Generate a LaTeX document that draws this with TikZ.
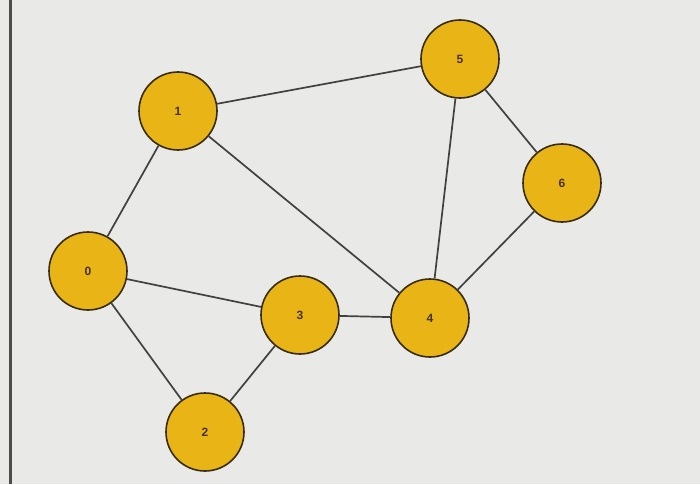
\documentclass[tikz,border=0pt]{standalone}
\usepackage{fontspec}
\setmainfont{Liberation Sans}
\definecolor{bg}{RGB}{233,233,231}
\definecolor{nodefill}{RGB}{233,180,22}
\definecolor{nodeedge}{RGB}{55,44,18}
\definecolor{edgecol}{RGB}{65,65,65}
\definecolor{txt}{RGB}{70,50,20}
\tikzset{
  vert/.style={circle, draw=nodeedge, line width=1.6pt, fill=nodefill, minimum size=78pt, inner sep=0pt, text=txt, font=\bfseries\fontsize{12}{14}\selectfont},
  link/.style={draw=edgecol, line width=1.7pt}
}
\begin{document}
\begin{tikzpicture}[x=1pt,y=-1pt]
\fill[bg] (0,0) rectangle (700,484);
\useasboundingbox (0,0) rectangle (700,484);
\draw[line width=2.2pt, draw=black!70] (10.5,0) -- (10.5,484);
\node[vert] (n0) at (88,271) {0};
\node[vert] (n1) at (178,111) {1};
\node[vert] (n2) at (205,432) {2};
\node[vert] (n3) at (300,315) {3};
\node[vert] (n4) at (430,318) {4};
\node[vert] (n5) at (460,59) {5};
\node[vert] (n6) at (562,183) {6};
\draw[link] (n0) -- (n1);
\draw[link] (n0) -- (n3);
\draw[link] (n0) -- (n2);
\draw[link] (n2) -- (n3);
\draw[link] (n3) -- (n4);
\draw[link] (n1) -- (n4);
\draw[link] (n1) -- (n5);
\draw[link] (n5) -- (n4);
\draw[link] (n5) -- (n6);
\draw[link] (n6) -- (n4);
\end{tikzpicture}
\end{document}
